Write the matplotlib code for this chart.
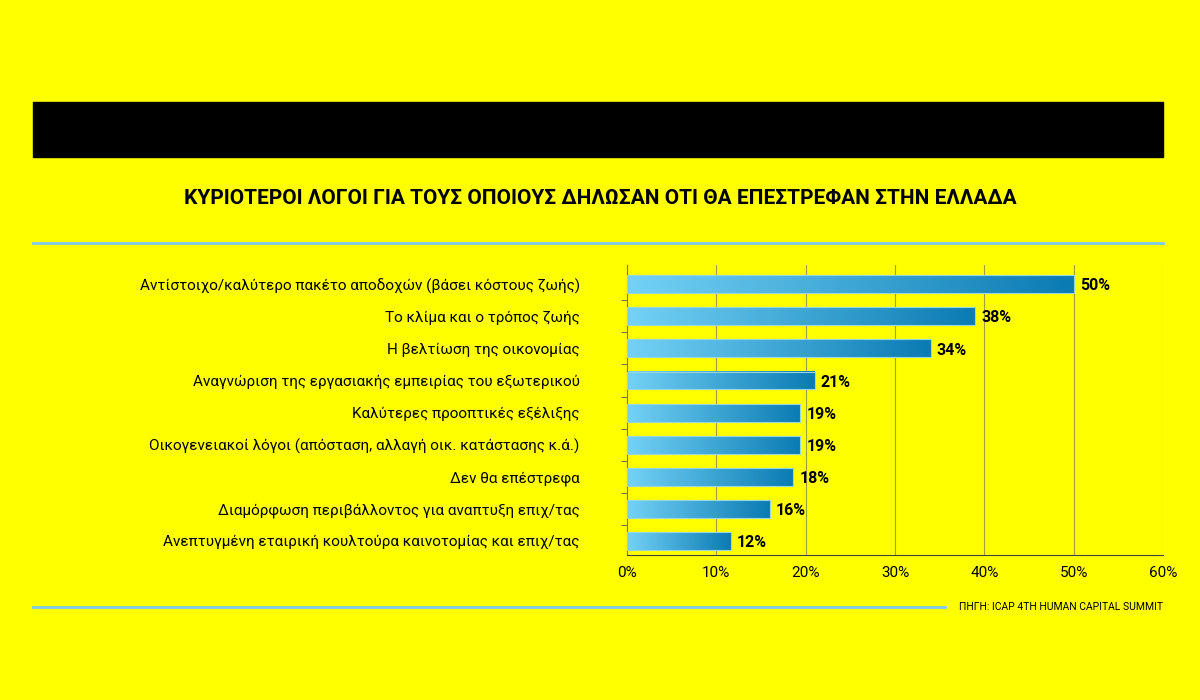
import matplotlib
matplotlib.use("Agg")
import matplotlib.pyplot as plt
import numpy as np
from matplotlib.colors import LinearSegmentedColormap

categories = ["Αντίστοιχο/καλύτερο πακέτο αποδοχών (βάσει κόστους ζωής)",
              "Το κλίμα και ο τρόπος ζωής",
              "Η βελτίωση της οικονομίας",
              "Αναγνώριση της εργασιακής εμπειρίας του εξωτερικού",
              "Καλύτερες προοπτικές εξέλιξης",
              "Οικογενειακοί λόγοι (απόσταση, αλλαγή οικ. κατάστασης κ.ά.)",
              "Δεν θα επέστρεφα",
              "Διαμόρφωση περιβάλλοντος για αναπτυξη επιχ/τας",
              "Ανεπτυγμένη εταιρική κουλτούρα καινοτομίας και επιχ/τας"]
bar_values = [50, 39, 34, 21, 19.4, 19.4, 18.6, 16, 11.6]
value_labels = ["50%", "38%", "34%", "21%", "19%", "19%", "18%", "16%", "12%"]
xticks = [0, 10, 20, 30, 40, 50, 60]

YEL = "#ffff00"
fig = plt.figure(figsize=(12, 7), dpi=100, facecolor=YEL)
plt.rcParams['font.family'] = ['Roboto', 'DejaVu Sans']

fig.patches.append(plt.Rectangle((33/1200, 1-157/700), 1130/1200, 55/700,
                                 transform=fig.transFigure, color="black"))
fig.text(0.5, 1-199/700, "ΚΥΡΙΟΤΕΡΟΙ ΛΟΓΟΙ ΓΙΑ ΤΟΥΣ ΟΠΟΙΟΥΣ ΔΗΛΩΣΑΝ ΟΤΙ ΘΑ ΕΠΕΣΤΡΕΦΑΝ ΣΤΗΝ ΕΛΛΑΔΑ",
         ha="center", va="center", fontsize=15, fontweight="bold")
fig.add_artist(plt.Line2D([33/1200, 1163/1200], [1-243/700]*2, color="#7fc8f0", lw=2))
fig.add_artist(plt.Line2D([33/1200, 945/1200], [1-607/700]*2, color="#7fc8f0", lw=2))
fig.text(1163/1200, 1-607/700, "ΠΗΓΗ: ICAP 4TH HUMAN CAPITAL SUMMIT", ha="right", va="center", fontsize=7.5)

ax = fig.add_axes([627/1200, 1-555/700, 536/1200, 290/700])
ax.set_facecolor(YEL)
cmap = LinearSegmentedColormap.from_list("g", ["#74d2f6", "#0a7bb3"])
n = len(categories)
ys = np.arange(n)
h = 0.56
grad = np.linspace(0, 1, 256).reshape(1, -1)
for y, v, lab in zip(ys, bar_values, value_labels):
    ax.imshow(grad, extent=[0, v, y - h/2, y + h/2], cmap=cmap, aspect="auto", zorder=2)
    ax.add_patch(plt.Rectangle((0, y - h/2), v, h, fill=False, ec="#9ad6e0", lw=0.8, zorder=3))
    ax.text(v + 0.7, y + 0.05, lab, va="center", ha="left", fontsize=11.5, fontweight="bold", zorder=4)
ax.set_xlim(0, 60)
ax.set_ylim(n - 1 + 0.44, -0.6)
ax.set_xticks(xticks)
ax.set_xticklabels([f"{t}%" for t in xticks], fontsize=11)
ax.set_yticks(ys)
ax.set_yticklabels(categories, fontsize=11)
ax.set_yticks(np.arange(n - 1) + 0.5, minor=True)
ax.tick_params(axis="y", which="major", length=0, pad=34)
ax.tick_params(axis="y", which="minor", length=4, color="#555")
ax.tick_params(axis="x", length=0, pad=8)
ax.grid(axis="x", color="#a0a040", lw=0.8, zorder=0)
for s in ["top", "right"]:
    ax.spines[s].set_visible(False)
ax.spines["left"].set_color("#777")
ax.spines["bottom"].set_color("#444")
fig.savefig("out.png", facecolor=YEL)
